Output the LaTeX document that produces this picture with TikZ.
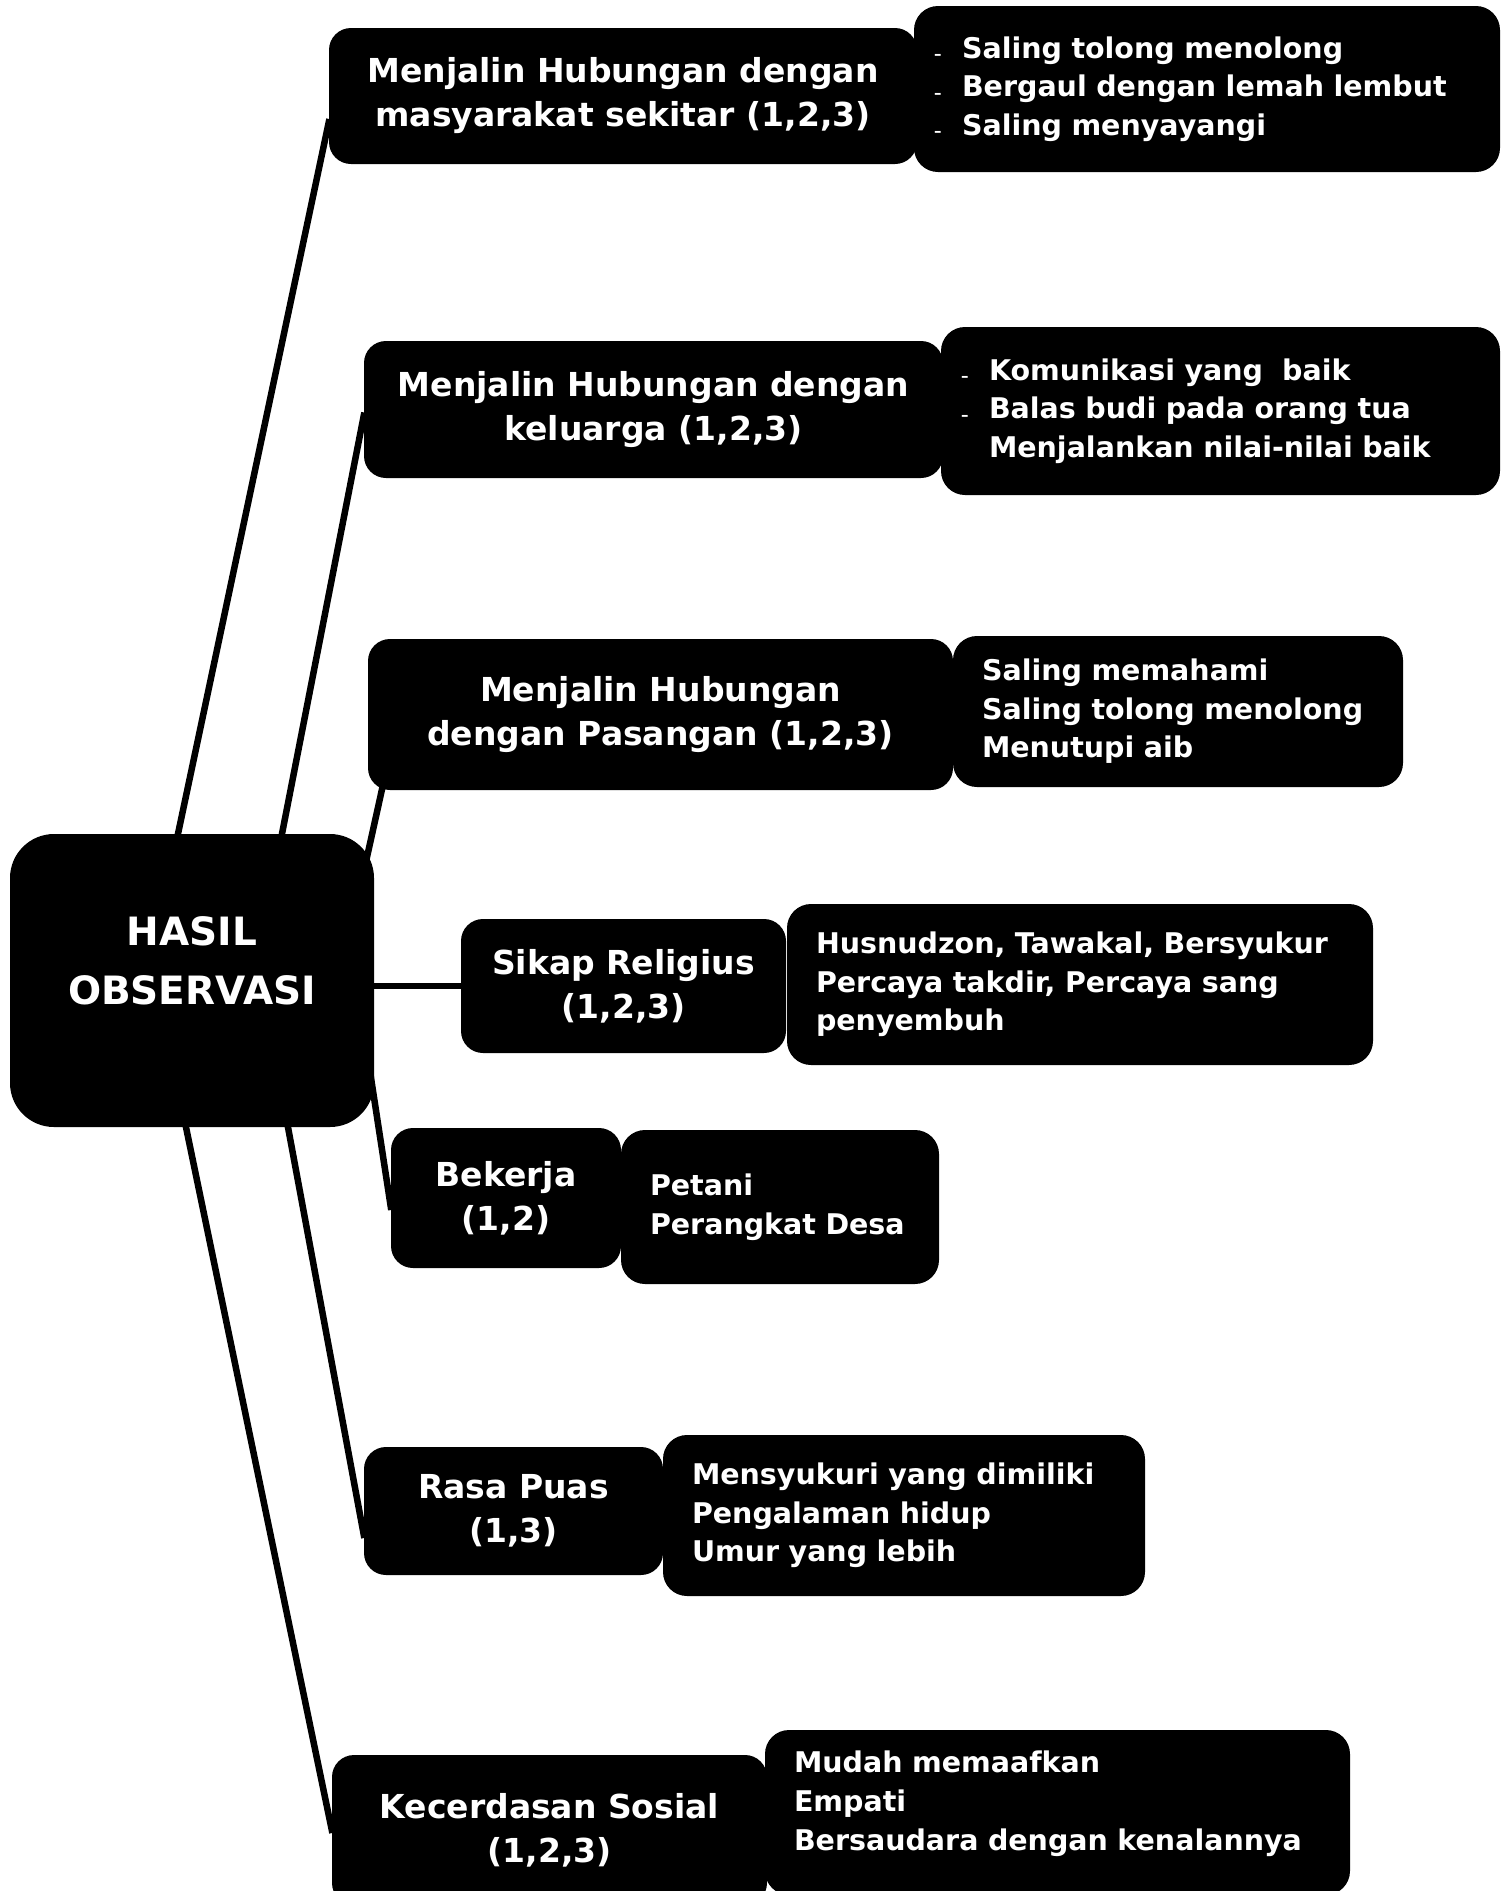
\documentclass[tikz,border=0pt]{standalone}
\usepackage{fontspec}
\setmainfont{DejaVu Sans}
\usetikzlibrary{backgrounds}

\newcommand{\bul}{\makebox[19pt][l]{\hspace{-9pt}\raisebox{-1.5pt}{\fontsize{15}{15}\selectfont –}}}
\newcommand{\nobul}{\hspace*{19pt}}

\begin{document}
\begin{tikzpicture}[x=1pt, y=-1pt,
    root/.style={fill=black, text=white, rounded corners=44pt, inner sep=0pt,
      align=center, font=\fontsize{39}{59}\selectfont\bfseries},
    topic/.style={fill=black, text=white, rounded corners=22pt, inner sep=0pt,
      align=center, font=\fontsize{33}{44}\selectfont\bfseries},
    items/.style={fill=black, text=white, rounded corners=24pt, inner xsep=29pt,
      inner ysep=0pt, align=left, font=\fontsize{28.5}{38.6}\selectfont\bfseries},
    branch/.style={line width=6.5pt, shorten <=-3pt, shorten >=-3pt}]
  \useasboundingbox (0,0) rectangle (1502,1891);

  % centre
  \node[root, minimum width=364pt, minimum height=293pt] (hasil) at (192,980.5)
    {HASIL\\OBSERVASI\\[-20pt]\mbox{}};

  % topics
  \node[topic, minimum width=588pt, minimum height=136pt] (masyarakat) at (623,96)
    {Menjalin Hubungan dengan\\masyarakat sekitar (1,2,3)};
  \node[topic, minimum width=579pt, minimum height=137pt] (keluarga) at (653.5,409.5)
    {Menjalin Hubungan dengan\\keluarga (1,2,3)};
  \node[topic, minimum width=585pt, minimum height=151pt] (pasangan) at (660.5,714.5)
    {Menjalin Hubungan\\dengan Pasangan (1,2,3)};
  \node[topic, minimum width=325pt, minimum height=134pt] (religius) at (623.5,986)
    {Sikap Religius\\(1,2,3)};
  \node[topic, minimum width=230pt, minimum height=140pt] (bekerja) at (506,1198)
    {Bekerja\\(1,2)};
  \node[topic, minimum width=299pt, minimum height=128pt] (puas) at (513.5,1511)
    {Rasa Puas\\(1,3)};
  \node[topic, minimum width=435pt, minimum height=150pt] (sosial) at (549.5,1830)
    {Kecerdasan Sosial\\(1,2,3)};

  % details
  \node[items, text width=528pt, minimum height=166pt] (ket-masyarakat) at (1207,89)
    {\bul Saling tolong menolong\\\bul Bergaul dengan lemah lembut\\\bul Saling menyayangi};
  \node[items, text width=501pt, minimum height=168pt] (ket-keluarga) at (1220.5,411)
    {\bul Komunikasi yang~ baik\\\bul Balas budi pada orang tua\\\nobul Menjalankan nilai-nilai baik};
  \node[items, text width=392pt, minimum height=151pt] (ket-pasangan) at (1178,711.5)
    {Saling memahami\\Saling tolong menolong\\Menutupi aib};
  \node[items, text width=528pt, minimum height=161pt] (ket-religius) at (1080,984.5)
    {Husnudzon, Tawakal, Bersyukur\\Percaya takdir, Percaya sang\\penyembuh};
  \node[items, text width=260pt, minimum height=154pt] (ket-bekerja) at (780,1207)
    {Petani\\Perangkat Desa};
  \node[items, text width=424pt, minimum height=161pt] (ket-puas) at (904,1515.5)
    {Mensyukuri yang dimiliki\\Pengalaman hidup\\Umur yang lebih};
  \node[items, text width=527pt, minimum height=165pt] (ket-sosial) at (1057.5,1812.5)
    {Mudah memaafkan\\Empati\\Bersaudara dengan kenalannya\\[-15pt]\mbox{}};

  % branches
  \begin{scope}[on background layer]
    \draw[branch] ([xshift=-14pt]hasil.north) -- ([yshift=-26pt]masyarakat.west);
    \draw[branch] ([xshift=90pt]hasil.north) -- ([yshift=-6pt]keluarga.west);
    \draw[branch] ([xshift=-12pt,yshift=-45pt]hasil.north east) -- ([xshift=14pt]pasangan.south west);
    \draw[branch] (hasil.east |- religius.west) -- (religius.west);
    \draw[branch] ([xshift=-12pt,yshift=-40pt]hasil.east) -- ([yshift=-9pt]bekerja.west);
    \draw[branch] ([xshift=96pt]hasil.south) -- ([yshift=-24pt]puas.west);
    \draw[branch] ([xshift=-6pt]hasil.south) -- (sosial.west);
  \end{scope}
\end{tikzpicture}
\end{document}
